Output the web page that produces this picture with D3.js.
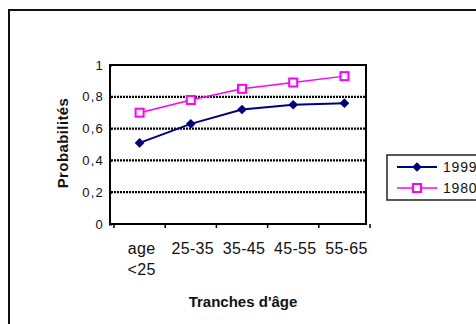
<!DOCTYPE html>
<html>
<head>
<meta charset="utf-8">
<script src="https://cdnjs.cloudflare.com/ajax/libs/d3/7.8.5/d3.min.js"></script>
<style>
body { margin: 0; background: #fff; }
svg { font-family: Arial, "Liberation Sans", sans-serif; }
</style>
</head>
<body>
<div id="viz"></div>
<script>
var categories = ["age <25", "25-35", "35-45", "45-55", "55-65"];
var values1999 = [0.51, 0.63, 0.72, 0.75, 0.76];
var values1980 = [0.70, 0.78, 0.85, 0.89, 0.93];
var yTicks = [0, 0.2, 0.4, 0.6, 0.8, 1];
var yTickLabels = ["0", "0,2", "0,4", "0,6", "0,8", "1"];

var w = 476;
var h = 324;
var svg = d3.select("#viz")
    .append("svg")
    .attr("width", w)
    .attr("height", h);

// outer frame (runs off the right and bottom edge)
svg.append("rect")
    .attr("x", 9).attr("y", 10)
    .attr("width", 500).attr("height", 340)
    .attr("fill", "none")
    .attr("stroke", "#111")
    .attr("stroke-width", 2);

var x = d3.scaleBand().domain(categories).range([114, 370]);
var y = d3.scaleLinear().domain([0, 1]).range([224, 65]);

// dotted gridlines
svg.selectAll("line.grid")
    .data(yTicks.filter(function(d) { return d > 0 && d < 1; }))
    .enter()
    .append("line")
    .attr("class", "grid")
    .attr("x1", 111).attr("x2", 366)
    .attr("y1", function(d) { return y(d); })
    .attr("y2", function(d) { return y(d); })
    .attr("stroke", "#000")
    .attr("stroke-width", 2.2)
    .attr("stroke-dasharray", "2,1");

// plot box
svg.append("rect")
    .attr("x", 110).attr("y", y(1))
    .attr("width", 256).attr("height", y(0) - y(1))
    .attr("fill", "none")
    .attr("stroke", "#000")
    .attr("stroke-width", 2);

// y axis
var yAxis = d3.axisLeft(y)
    .tickValues(yTicks)
    .tickSize(3)
    .tickPadding(5)
    .tickFormat(function(d, i) { return yTickLabels[i]; });
var gy = svg.append("g")
    .attr("transform", "translate(112,0)")
    .call(yAxis);
gy.select(".domain").remove();
gy.selectAll("text")
    .attr("font-size", 13)
    .attr("letter-spacing", 1.2)
    .attr("fill", "#111");
gy.selectAll("line").attr("stroke-width", 2);

// x axis ticks at band edges
var edges = categories.map(function(d) { return x(d); }).concat([x.range()[1]]);
svg.selectAll("line.xtick")
    .data(edges)
    .enter()
    .append("line")
    .attr("class", "xtick")
    .attr("x1", function(d) { return d; })
    .attr("x2", function(d) { return d; })
    .attr("y1", y(0)).attr("y2", y(0) + 4)
    .attr("stroke", "#000")
    .attr("stroke-width", 1.5);

// x labels
svg.selectAll("text.xlab")
    .data(categories)
    .enter()
    .append("text")
    .attr("class", "xlab")
    .attr("x", function(d) { return x(d) + x.bandwidth() / 2 + 2; })
    .attr("y", 254)
    .attr("text-anchor", "middle")
    .attr("font-size", 16)
    .attr("letter-spacing", 0.3)
    .attr("fill", "#111")
    .each(function(d) {
        var parts = d.split(" ");
        var t = d3.select(this);
        parts.forEach(function(p, i) {
            t.append("tspan")
                .attr("x", t.attr("x"))
                .attr("dy", i === 0 ? 0 : 21)
                .text(p);
        });
    });

// axis titles
svg.append("text")
    .attr("x", 243).attr("y", 307)
    .attr("text-anchor", "middle")
    .attr("font-size", 15)
    .attr("font-weight", "bold")
    .attr("fill", "#111")
    .text("Tranches d'âge");

svg.append("text")
    .attr("transform", "translate(68,143) rotate(-90)")
    .attr("text-anchor", "middle")
    .attr("font-size", 15)
    .attr("font-weight", "bold")
    .attr("letter-spacing", 0.4)
    .attr("fill", "#111")
    .text("Probabilités");

// series
var line = d3.line()
    .x(function(d, i) { return x(categories[i]) + x.bandwidth() / 2; })
    .y(function(d) { return y(d); });

svg.append("path")
    .datum(values1980)
    .attr("d", line)
    .attr("fill", "none")
    .attr("stroke", "#ff00ff")
    .attr("stroke-width", 1.5);

svg.append("path")
    .datum(values1999)
    .attr("d", line)
    .attr("fill", "none")
    .attr("stroke", "#000080")
    .attr("stroke-width", 2);

var diamond = d3.symbol().type(d3.symbolDiamond2).size(60);

svg.selectAll("rect.m1980")
    .data(values1980)
    .enter()
    .append("rect")
    .attr("class", "m1980")
    .attr("x", function(d, i) { return x(categories[i]) + x.bandwidth() / 2 - 4; })
    .attr("y", function(d) { return y(d) - 4; })
    .attr("width", 8).attr("height", 8)
    .attr("fill", "#fff")
    .attr("stroke", "#ff00ff")
    .attr("stroke-width", 2);

svg.selectAll("path.m1999")
    .data(values1999)
    .enter()
    .append("path")
    .attr("class", "m1999")
    .attr("d", diamond)
    .attr("transform", function(d, i) {
        return "translate(" + (x(categories[i]) + x.bandwidth() / 2) + "," + y(d) + ")";
    })
    .attr("fill", "#000080");

// legend
var legend = svg.append("g");
legend.append("rect")
    .attr("x", 387).attr("y", 155)
    .attr("width", 120).attr("height", 45)
    .attr("fill", "#fff")
    .attr("stroke", "#222")
    .attr("stroke-width", 1.5);

var series = [
    { name: "1999", color: "#000080", y: 167 },
    { name: "1980", color: "#ff00ff", y: 188 }
];
series.forEach(function(s, i) {
    legend.append("line")
        .attr("x1", 397).attr("x2", 437)
        .attr("y1", s.y).attr("y2", s.y)
        .attr("stroke", s.color)
        .attr("stroke-width", i === 0 ? 2 : 1.5);
    if (i === 0) {
        legend.append("path")
            .attr("d", diamond)
            .attr("transform", "translate(417," + s.y + ")")
            .attr("fill", s.color);
    } else {
        legend.append("rect")
            .attr("x", 413).attr("y", s.y - 4)
            .attr("width", 8).attr("height", 8)
            .attr("fill", "#fff")
            .attr("stroke", s.color)
            .attr("stroke-width", 2);
    }
    legend.append("text")
        .attr("x", 443).attr("y", s.y + 5)
        .attr("font-size", 14)
        .attr("letter-spacing", 0.8)
        .attr("fill", "#111")
        .text(s.name);
});
</script>
</body>
</html>
